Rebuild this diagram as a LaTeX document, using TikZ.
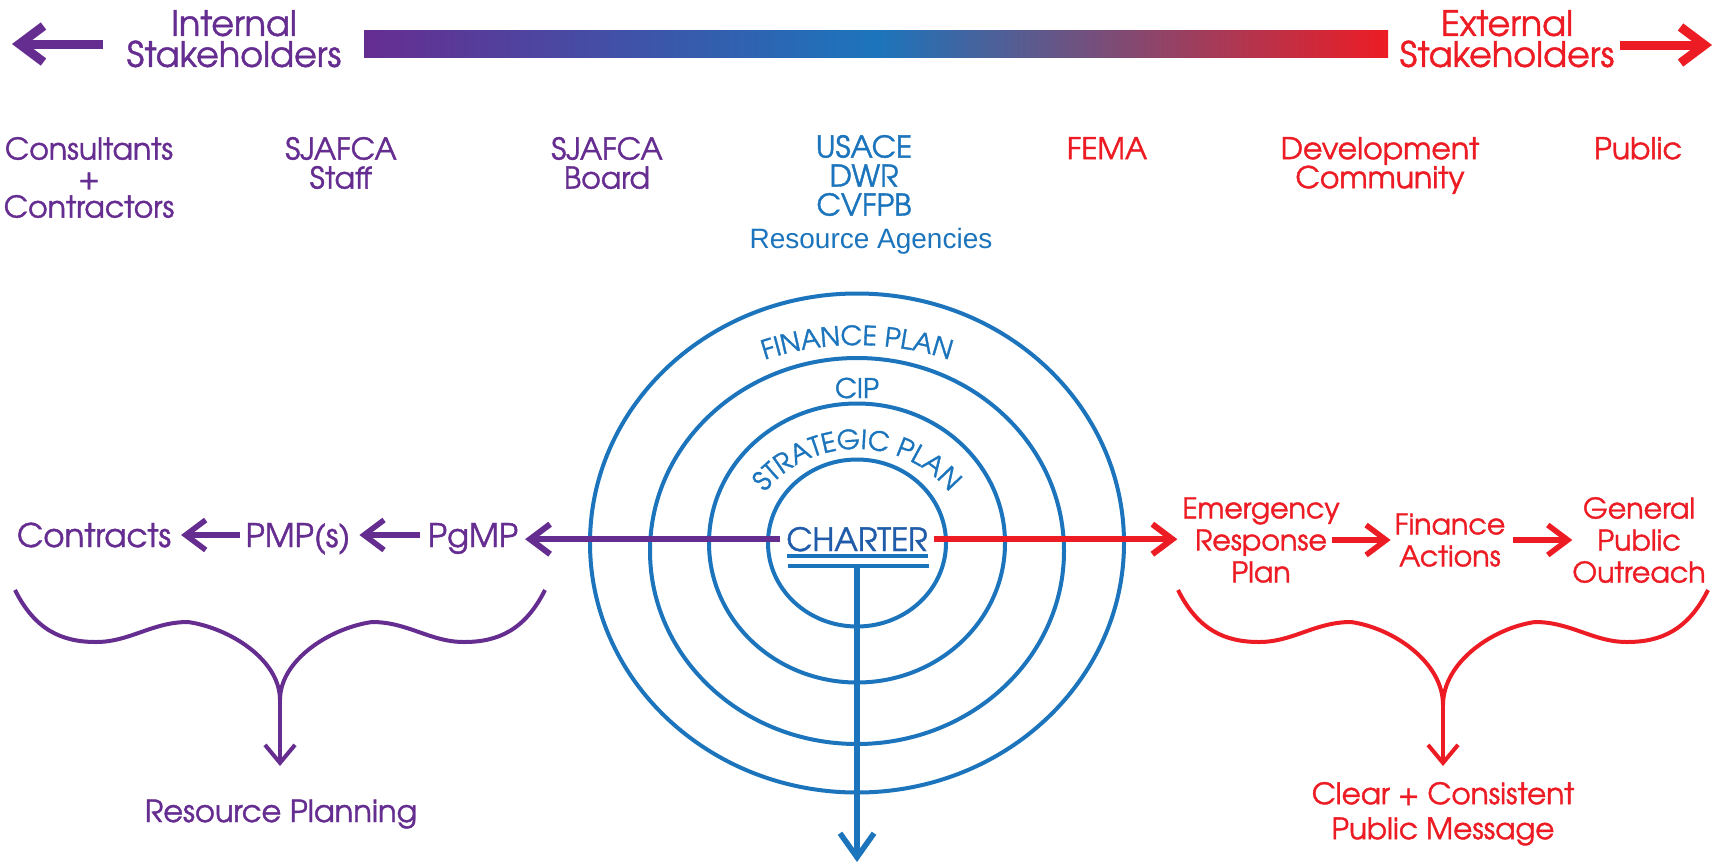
\documentclass[tikz,border=0pt]{standalone}
\usepackage{fontspec}
\usetikzlibrary{arrows.meta,decorations.text,calc}
\IfFontExistsTF{texgyreadventor-regular.otf}
  {\setmainfont{texgyreadventor-regular.otf}[FakeBold=1.3]}
  {\setmainfont{Poppins}}
\newfontfamily\arialfont{Liberation Sans}
\definecolor{cpurple}{RGB}{102,45,145}
\definecolor{cblue}{RGB}{28,117,188}
\definecolor{cred}{RGB}{237,28,36}
\definecolor{cdblue}{RGB}{33,92,170}
\newcommand{\setfs}[2]{\fontsize{#1}{#2}\selectfont}
\begin{document}
\begin{tikzpicture}[x=1pt,y=-1pt,
  txt/.style={inner sep=0pt, outer sep=0pt, align=center},
  toplbl/.style={txt, anchor=north, font=\bfseries\setfs{35}{31}},
  rowlbl/.style={txt, anchor=north, font=\bfseries\setfs{30}{29}},
  chainlbl/.style={inner sep=0pt, outer sep=0pt, anchor=base, font=\bfseries\setfs{32.5}{32}, text height=24pt, text depth=0pt, text=cpurple},
  redlbl/.style={txt, font=\bfseries\setfs{28.5}{32}, text=cred},
  ring/.style={draw=cblue, line width=4pt},
  bigarrow/.style={line width=9pt, -{Straight Barb[length=24pt,width=36pt]}},
  mainline/.style={line width=6pt, -{Straight Barb[length=20pt,width=30pt]}},
  chainarrow/.style={line width=5.5pt, -{Straight Barb[length=20pt,width=30pt]}},
  bracearrow/.style={line width=4pt, -{Straight Barb[length=18pt,width=30pt]}},
  bracecurve/.style={line width=4pt},
  ulbar/.style={draw=cblue, line width=3.5pt},
]
\fill[white] (0,0) rectangle (1715,865);
\useasboundingbox (0,0) rectangle (1715,865);

% ---- top row
\node[toplbl, text=cpurple] (intl) at (234,10) {Internal\\Stakeholders};
\node[toplbl, text=cred] (extl) at (1507,10) {External\\Stakeholders};
\coordinate (la0) at (103,44); \coordinate (la1) at (12,44);
\coordinate (ra0) at (1620,45); \coordinate (ra1) at (1712,45);
\draw[bigarrow, cpurple] (la0) -- (la1);
\draw[bigarrow, cred] (ra0) -- (ra1);
\shade[left color=cpurple, right color=cred, middle color=cblue] (364,30) rectangle (1388,57);

% ---- stakeholders
\node[rowlbl, text=cpurple] (cons) at (89,137) {Consultants\\+\\Contractors};
\node[rowlbl, text=cpurple] (staff) at (341,137) {SJAFCA\\Staff};
\node[rowlbl, text=cpurple] (board) at (607,137) {SJAFCA\\Board};
\node[rowlbl, text=cblue] (usace) at (864,135) {USACE\\DWR\\CVFPB};
\node[txt, anchor=base, font=\arialfont\setfs{28}{28}, text=cblue] (resag) at (871,248) {Resource Agencies};
\node[rowlbl, text=cred] (fema) at (1107,137) {FEMA};
\node[rowlbl, text=cred] (devc) at (1380,137) {Development\\Community};
\node[rowlbl, text=cred] (pub) at (1638,137) {Public};

% ---- rings
\draw[ring] (857,543) ellipse [x radius=267, y radius=249.5];
\draw[ring] (857,551) ellipse [x radius=207, y radius=193];
\draw[ring] (857,543) ellipse [x radius=148, y radius=139.5];
\draw[ring] (857,543) ellipse [x radius=89, y radius=83.5];

\path[decorate, decoration={text along path, text align=center,
   text={|\bfseries\setfs{26.5}{26}\color{cblue}|FINANCE PLAN}}]
  (719.5,379.2) arc[start angle=240, end angle=300, x radius=275, y radius=255];
\node[txt, anchor=base, font=\bfseries\setfs{27}{27}, text=cblue] (cip) at (857,398) {CIP};
\path[decorate, decoration={text along path, text align=center,
   text={|\bfseries\setfs{26.5}{26}\color{cblue}|STRATEGIC PLAN}}]
  (749.0,520.0) arc[start angle=200, end angle=340, x radius=115, y radius=108];

% ---- charter
\node[txt, anchor=base, font=\bfseries\setfs{32}{32}, text=cdblue] (charter) at (857,551) {CHARTER};
\draw[ulbar] ($(charter.base west)+(1,5)$) -- ($(charter.base east)+(0,5)$);
\draw[ulbar] ($(charter.base west)+(2,15)$) -- ($(charter.base east)+(1,15)$);
\coordinate (chb) at (857,566); \coordinate (cht) at (857,862);
\draw[mainline, cblue, line width=5.5pt, -{Straight Barb[length=24pt,width=34pt]}] (chb) -- (cht);

% ---- internal chain
\node[chainlbl] (contracts) at (94,547) {Contracts};
\node[chainlbl] (pmp) at (298,547) {PMP(s)};
\node[chainlbl] (pgmp) at (473,547) {PgMP};
\draw[mainline, cpurple, shorten <=6pt, shorten >=7pt] (charter.west) -- (charter.west -| pgmp.east);
\draw[chainarrow, cpurple, shorten <=8pt, shorten >=9pt] (pgmp.west) -- (pmp.east);
\draw[chainarrow, cpurple, shorten <=6pt, shorten >=10pt] (pmp.west) -- (contracts.east);

% ---- external chain
\node[redlbl] (erp) at (1261,540) {Emergency\\Response\\Plan};
\node[redlbl] (fa) at (1450,540) {Finance\\Actions};
\node[redlbl] (gpo) at (1639,540) {General\\Public\\Outreach};
\draw[mainline, cred, shorten <=6pt, shorten >=5pt] (charter.east) -- (charter.east -| erp.west);
\draw[chainarrow, cred, shorten >=4pt] ([xshift=-8pt]erp.east) -- (fa.west);
\draw[chainarrow, cred, shorten <=8pt, shorten >=0pt] (fa.east) -- (gpo.west);

% ---- braces
\coordinate (pbL) at (15,590); \coordinate (pbc) at (280,700); \coordinate (pbR) at (545,590);
\coordinate (pbt) at (280,766);
\draw[bracecurve, cpurple] (pbL) .. controls (35,630) and (62,642) .. (96,642)
  .. controls (130,642) and (152,622) .. (188,622)
  .. controls (230,628) and (280,660) .. (pbc)
  .. controls (280,660) and (330,628) .. (372,622)
  .. controls (408,622) and (430,642) .. (464,642)
  .. controls (498,642) and (525,630) .. (pbR);
\draw[bracearrow, cpurple] (pbc) -- (pbt);
\node[txt, anchor=base, font=\bfseries\setfs{30.5}{30}, text=cpurple] (rp) at (281,822) {Resource Planning};

\coordinate (rbL) at (1178,590); \coordinate (rbc) at (1443,705); \coordinate (rbR) at (1708,590);
\coordinate (rbt) at (1443,766);
\draw[bracecurve, cred] (rbL) .. controls (1198,630) and (1225,642) .. (1259,642)
  .. controls (1293,642) and (1315,622) .. (1351,622)
  .. controls (1393,628) and (1443,662) .. (rbc)
  .. controls (1443,662) and (1493,628) .. (1535,622)
  .. controls (1571,622) and (1593,642) .. (1627,642)
  .. controls (1661,642) and (1688,630) .. (rbR);
\draw[bracearrow, cred] (rbc) -- (rbt);
\node[txt, anchor=north, font=\bfseries\setfs{29.5}{35}, text=cred] (msg) at (1443,782) {Clear + Consistent\\Public Message};
\end{tikzpicture}
\end{document}
